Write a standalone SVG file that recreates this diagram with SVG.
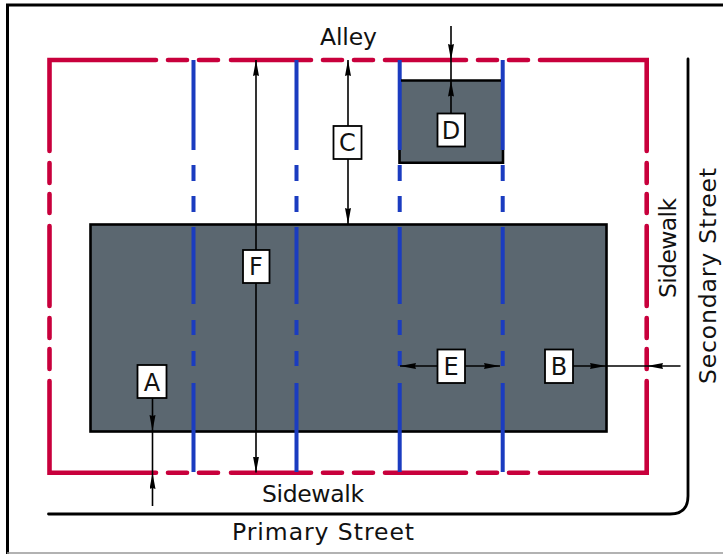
<svg xmlns="http://www.w3.org/2000/svg" width="723" height="554" viewBox="0 0 723 554">
<style>
.frame{fill:none;stroke:#000;stroke-width:3}
.bldg{fill:#5b6770;stroke:#000;stroke-width:2.6}
.rear{fill:#5b6770}
.edge{fill:none;stroke:#000;stroke-width:2.6}
.red{fill:none;stroke:#c8003c;stroke-width:4.6;stroke-linecap:round;stroke-linejoin:miter}
.blue{fill:none;stroke:#1b3cc0;stroke-width:4}
.street{fill:none;stroke:#000;stroke-width:2.8;stroke-linecap:round}
.dim{fill:none;stroke:#000;stroke-width:1.6}
.box{fill:#fff;stroke:#000;stroke-width:1.8}
text{font-family:"DejaVu Sans","Liberation Sans",sans-serif;font-size:23.5px;fill:#111}
.lab{text-anchor:middle;font-size:24px}
</style>
<defs>
<marker id="ah" markerUnits="userSpaceOnUse" markerWidth="17" markerHeight="7" refX="16" refY="3" orient="auto-start-reverse"><path d="M0 0L16 3L0 6L1 3Z" fill="#000"/></marker>
</defs>
<path class="frame" d="M723 5H7.5V554"/>
<path d="M7 553H723" fill="none" stroke="#999" stroke-width="1.5"/>
<g id="red-boundary">
<path class="red" d="M156 60H49.5V151M168 60H187M199 60H218M231 60H311M323 60H342M354 60H373M385 60H466M478 60H497M509 60H528M540 60H646.7V151M49.5 163V183M49.5 194V213M49.5 226V306M49.5 318V338M49.5 349V369M49.5 381V472.7H156M168 472.7H187M199 472.7H218M231 472.7H311M323 472.7H342M354 472.7H373M385 472.7H466M478 472.7H497M509 472.7H528M540 472.7H646.7V381M646.7 163V183M646.7 194V213M646.7 226V306M646.7 318V338M646.7 349V369"/>
</g>
<g id="main-building"><rect class="bldg" x="90.5" y="224.5" width="516" height="207"/></g>
<g id="rear-building"><rect class="rear" x="400" y="80.5" width="102.5" height="82"/></g>
<g id="setbacks">
<path class="blue" d="M193.5 60V150M193.5 165V181M193.5 196V212M193.5 227V304M193.5 320V335M193.5 351V366M193.5 383V472M296.5 60V150M296.5 165V181M296.5 196V212M296.5 227V304M296.5 320V335M296.5 351V366M296.5 383V472M399.7 60V150M399.7 165V181M399.7 196V212M399.7 227V304M399.7 320V335M399.7 351V366M399.7 383V472M502.7 60V150M502.7 165V181M502.7 196V212M502.7 227V304M502.7 320V335M502.7 351V366M502.7 383V472"/>
</g>
<g id="rear-edges"><path class="edge" d="M401 80.5H501M399.5 150V162.8H503V150"/></g>
<g id="street-edge"><path class="street" d="M48.5 514H670Q688 514 688 496V59"/></g>
<g id="connectors">
<path class="dim" marker-start="url(#ah)" marker-end="url(#ah)" d="M256 60V472.5"/>
<path class="dim" marker-start="url(#ah)" marker-end="url(#ah)" d="M348 60V224"/>
<path class="dim" marker-end="url(#ah)" d="M451 26V60"/>
<path class="dim" d="M451 60V81"/>
<path class="dim" marker-end="url(#ah)" d="M451 113V80.5"/>
<path class="dim" marker-start="url(#ah)" marker-end="url(#ah)" d="M400 366H500"/>
<path class="dim" marker-end="url(#ah)" d="M573 366H606"/>
<path class="dim" d="M606 366H647"/>
<path class="dim" marker-end="url(#ah)" d="M680.5 366H647"/>
<path class="dim" marker-end="url(#ah)" d="M152.5 398V431"/>
<path class="dim" d="M152.5 431V473"/>
<path class="dim" marker-end="url(#ah)" d="M152.5 506V473"/>
</g>
<g id="node-a"><rect class="box" x="137.5" y="365" width="29" height="33"/><text class="lab" x="152" y="390.5">A</text></g>
<g id="node-b"><rect class="box" x="545" y="349.5" width="28" height="33.5"/><text class="lab" x="559" y="375">B</text></g>
<g id="node-c"><rect class="box" x="333.5" y="126" width="28" height="33"/><text class="lab" x="347.5" y="151">C</text></g>
<g id="node-d"><rect class="box" x="437.5" y="113.5" width="27.5" height="33"/><text class="lab" x="451" y="138.5">D</text></g>
<g id="node-e"><rect class="box" x="437.5" y="349.5" width="27.5" height="33.5"/><text class="lab" x="451" y="375">E</text></g>
<g id="node-f"><rect class="box" x="243" y="250" width="26.5" height="33"/><text class="lab" x="256" y="275">F</text></g>
<g id="labels">
<text x="320" y="45" textLength="57">Alley</text>
<text x="262" y="502" textLength="102">Sidewalk</text>
<text x="232" y="540" textLength="182">Primary Street</text>
<text transform="translate(676 298) rotate(-90)" textLength="100">Sidewalk</text>
<text transform="translate(716 384) rotate(-90)" textLength="216">Secondary Street</text>
</g>
</svg>
